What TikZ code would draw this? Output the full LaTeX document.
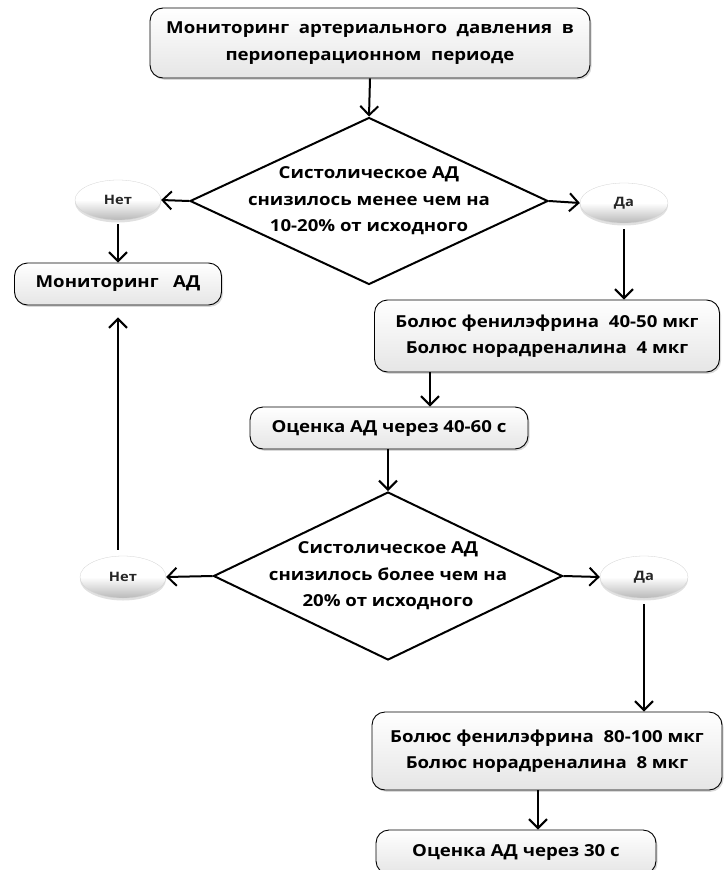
\documentclass[tikz,border=0pt]{standalone}
\usepackage{fontspec}
\setmainfont[FakeStretch=1.13]{Open Sans}
\usetikzlibrary{shapes.geometric,arrows.meta}
\begin{document}
\begin{tikzpicture}[x=1pt,y=1pt,
  txt/.style={font=\bfseries\fontsize{16.5}{26.5}\selectfont, align=center, inner sep=0pt},
  box/.style={txt, rounded corners=13pt, draw=black, line width=0.9pt,
    top color=white, bottom color=gray!20,
    preaction={fill=black, fill opacity=0.15, draw=none, rounded corners=13pt,
      transform canvas={xshift=1.5pt, yshift=-1.8pt}}},
  oval/.style={ellipse, draw=gray!35, line width=0.3pt, top color=white, bottom color=gray!55,
    middle color=white, inner sep=0pt, font=\bfseries\fontsize{13}{14}\selectfont, text=black!85,
    preaction={fill=black, fill opacity=0.12, draw=none,
      transform canvas={yshift=-2.5pt}}},
  dmd/.style={diamond, draw=black, line width=2pt, inner sep=0pt},
  arr/.style={line width=2pt, -{Straight Barb[length=9pt,width=18pt,line width=2pt]}}
]
\useasboundingbox (0,0) rectangle (725,-870);

% nodes
\node[box, minimum width=440pt, minimum height=70pt] (top) at (370,-43)
  {Мониторинг\ \ артериального\ \ давления\ \ в\\периоперационном\ \ периоде};

\node[dmd, minimum width=358pt, minimum height=167pt] (d1) at (369,-201) {};
\node[txt] (d1t) at (d1) {Систолическое АД\\снизилось менее чем на\\10-20\% от исходного};

\node[oval, minimum width=86pt, minimum height=40pt] (no1) at (118,-200) {Нет};
\node[oval, minimum width=88pt, minimum height=40pt] (yes1) at (624,-203) {Да};

\node[box, minimum width=207pt, minimum height=42pt] (mon) at (118,-284) {Мониторинг\ \ \ АД};

\node[box, minimum width=345pt, minimum height=72pt] (b1) at (547,-336)
  {Болюс фенилэфрина\ \ 40-50 мкг\\Болюс норадреналина\ \ 4 мкг};

\node[box, minimum width=278pt, minimum height=42pt] (o1) at (389,-428) {Оценка АД через 40-60 с};

\node[dmd, minimum width=349pt, minimum height=168pt] (d2) at (388,-576) {};
\node[txt] (d2t) at (d2) {Систолическое АД\\снизилось более чем на\\20\% от исходного};

\node[oval, minimum width=86pt, minimum height=42pt] (no2) at (123,-577) {Нет};
\node[oval, minimum width=88pt, minimum height=42pt] (yes2) at (644,-577) {Да};

\node[box, minimum width=350pt, minimum height=78pt] (b2) at (547,-751)
  {Болюс фенилэфрина\ \ 80-100 мкг\\Болюс норадреналина\ \ 8 мкг};

\node[box, minimum width=280pt, minimum height=44pt] (o2) at (516,-852) {Оценка АД через 30 с};

% helper coordinates
\coordinate (x430) at (430,0);
\coordinate (x538) at (538,0);
\coordinate (x118) at (118,0);

% connectors
\draw[arr] (top.south) -- (d1.north);
\draw[arr] (d1.west) -- (no1.east);
\draw[arr] (d1.east) -- (yes1.west);
\draw[arr] ([yshift=-4pt]no1.south -| x118) -- (mon.north -| x118);
\draw[arr] ([yshift=-6pt]yes1.south) -- (yes1.south |- b1.north);
\draw[arr] (b1.south -| x430) -- (o1.north -| x430);
\draw[arr] (o1.south -| d2.north) -- (d2.north);
\draw[arr] (d2.west) -- (no2.east);
\draw[arr] (d2.east) -- (yes2.west);
\draw[arr, shorten >=12pt] ([yshift=6pt]no2.north -| x118) -- (mon.south -| x118);
\draw[arr] ([yshift=-6pt]yes2.south) -- (yes2.south |- b2.north);
\draw[arr] (b2.south -| x538) -- (o2.north -| x538);
\end{tikzpicture}
\end{document}
